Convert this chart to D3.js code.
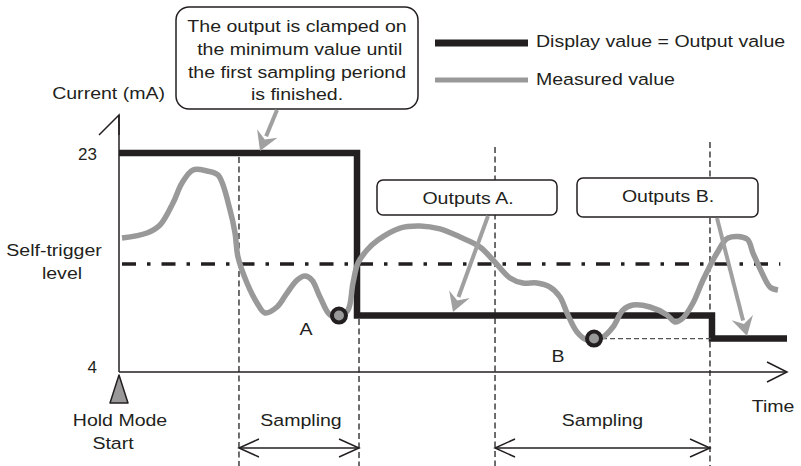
<!DOCTYPE html>
<html><head><meta charset="utf-8">
<script src="https://cdn.jsdelivr.net/npm/d3@7"></script>
<style>
body{margin:0;background:#fff;}
text{font-family:"Liberation Sans",Arial,Helvetica,sans-serif;fill:#231f20;}
</style></head>
<body>
<script>
// ---- data (time in arbitrary units 0..100, current in mA) ----
const yTicks = [4, 23];
const yTickLabels = ["4", "23"];
const measuredT  = [0.45,4.19,6.14,8.08,9.43,11.08,13.17,14.82,16.62,17.37,17.81,19.16,20.66,21.86,23.65,25.15,26.65,27.84,28.89,30.09,31.59,32.93,34.28,35.03,35.78,37.13,38.77,42.07,45.06,48.05,51.05,54.04,55.99,58.53,60.48,62.57,64.52,66.02,67.07,68.56,70.06,71.11,72.46,73.95,75.45,76.95,79.49,82.04,83.23,84.43,85.93,87.43,89.52,91.17,94.01,94.91,96.26,97.46,98.65];
const measuredMA = [15.63,16.06,16.75,18.66,20.40,21.53,21.44,21.09,18.06,16.06,13.98,11.72,9.99,9.12,9.64,10.85,11.98,12.33,11.98,10.51,8.95,8.85,9.38,11.72,13.46,14.58,15.45,16.49,16.67,16.41,15.71,14.85,13.72,12.16,11.72,11.72,11.37,10.51,9.12,7.47,6.78,6.86,7.04,7.90,9.38,9.81,9.64,8.95,8.34,8.69,9.99,11.98,14.32,15.63,15.54,14.32,12.59,11.37,11.11];
const outputT  = [0, 35.63, 35.63, 88.77, 88.77, 100];
const outputMA = [23, 23, 8.9, 8.9, 6.9, 6.9];
const selfTrigger = 13.37;
const samplingStart = [17.96, 56.29];
const samplingEnd   = [35.93, 88.47];
const samplingLabel = ["Sampling", "Sampling"];
const pointNames = ["A", "B"];
const pointT  = [32.93, 71.11];
const pointMA = [8.9, 6.9];
const calloutLines = ["The output is clamped on", " the minimum value until", "the first sampling periond", "is finished."];
const legendLabels = ["Display value = Output value", "Measured value"];
const outputsLabels = ["Outputs A.", "Outputs B."];

// ---- setup ----
const W = 801, H = 466;
const svg = d3.select("body").append("svg").attr("width", W).attr("height", H);
const x = d3.scaleLinear().domain([0, 100]).range([119, 787]);
const y = d3.scaleLinear().domain([4, 23]).range([372, 153]);
const FS = 17, SX = 1.15;
const GRAY = "#999999", DARK = "#231f20";

function txt(s, px, py, anchor, size) {
  return svg.append("text")
    .attr("transform", `translate(${px},${py}) scale(${SX},1)`)
    .attr("text-anchor", anchor || "middle")
    .attr("font-size", size || FS)
    .style("white-space", "pre")
    .text(s);
}
function chevron(tipX, tipY, dx, dy) {
  svg.append("path")
    .attr("d", `M${tipX + dx},${tipY + dy} L${tipX},${tipY} L${tipX + (dx === 0 ? -dy : dx)},${tipY + (dx === 0 ? dy : -dy)}`)
    .attr("fill", "none").attr("stroke", DARK).attr("stroke-width", 1.5);
}

// ---- vertical dashed sampling boundaries ----
const boundTops = [157, 319, 147, 142];
const bounds = [samplingStart[0], samplingEnd[0], samplingStart[1], samplingEnd[1]];
bounds.forEach((t, i) => {
  svg.append("line").attr("x1", x(t)).attr("x2", x(t)).attr("y1", boundTops[i]).attr("y2", H)
    .attr("stroke", DARK).attr("stroke-width", 1.3).attr("stroke-dasharray", "6,3.5");
});

// ---- self-trigger dash-dot line ----
svg.append("line").attr("x1", x(0.45)).attr("x2", x(99)).attr("y1", y(selfTrigger)).attr("y2", y(selfTrigger))
  .attr("stroke", DARK).attr("stroke-width", 3.5).attr("stroke-dasharray", "14,11,3.5,11");

// ---- axes ----
const yAxis = d3.axisLeft(y).tickValues(yTicks).tickFormat((d, i) => yTickLabels[i]).tickSize(0).tickPadding(22);
const gy = svg.append("g").attr("transform", `translate(${x(0)},0)`).call(yAxis);
gy.select(".domain").remove();
gy.selectAll("text").attr("font-size", FS).attr("font-family", "Liberation Sans, Arial, sans-serif")
  .attr("fill", DARK)
  .attr("dy", d => d === 4 ? "0" : "0.36em");
svg.append("line").attr("x1", x(0)).attr("x2", x(0)).attr("y1", 115).attr("y2", y(4))
  .attr("stroke", DARK).attr("stroke-width", 1.5);
chevron(x(0), 115, 0, 20);
svg.append("line").attr("x1", x(0)).attr("x2", x(100)).attr("y1", y(4)).attr("y2", y(4))
  .attr("stroke", DARK).attr("stroke-width", 1.5);
chevron(x(100), y(4), -20, 10);

// ---- output (display) line ----
const outData = outputT.map((t, i) => [t, outputMA[i]]);
svg.append("path").datum(outData)
  .attr("d", d3.line().x(d => x(d[0])).y(d => y(d[1])))
  .attr("fill", "none").attr("stroke", DARK).attr("stroke-width", 6.5)
  .attr("stroke-linejoin", "miter").attr("stroke-linecap", "butt");

// dashed level from B to the step
svg.append("line").attr("x1", x(pointT[1])).attr("x2", x(outputT[3])).attr("y1", y(pointMA[1])).attr("y2", y(pointMA[1]))
  .attr("stroke", "#555").attr("stroke-width", 1.2).attr("stroke-dasharray", "5,3");

// ---- measured line ----
const measData = measuredT.map((t, i) => [t, measuredMA[i]]);
svg.append("path").datum(measData)
  .attr("d", d3.line().x(d => x(d[0])).y(d => y(d[1])).curve(d3.curveCatmullRom.alpha(0.5)))
  .attr("fill", "none").attr("stroke", GRAY).attr("stroke-width", 5.5)
  .attr("stroke-linejoin", "round").attr("stroke-linecap", "butt");

// ---- sample points ----
pointNames.forEach((n, i) => {
  svg.append("circle").attr("cx", x(pointT[i])).attr("cy", y(pointMA[i])).attr("r", 7)
    .attr("fill", GRAY).attr("stroke", DARK).attr("stroke-width", 4);
});
txt("A", 306, 335);
txt("B", 558, 362);

// ---- callout boxes ----
svg.append("rect").attr("x", 176).attr("y", 7).attr("width", 242).attr("height", 102).attr("rx", 13)
  .attr("fill", "#fff").attr("stroke", DARK).attr("stroke-width", 1.5);
const lineBase = [32, 55, 77.5, 100];
calloutLines.forEach((s, i) => txt(s, 297, lineBase[i]));

const boxes = [[377, 180, 180, 35], [577, 178, 181, 39]];
boxes.forEach((b, i) => {
  svg.append("rect").attr("x", b[0]).attr("y", b[1]).attr("width", b[2]).attr("height", b[3]).attr("rx", 6)
    .attr("fill", "#fff").attr("stroke", DARK).attr("stroke-width", 1.5);
});
txt(outputsLabels[0], 468, 204);
txt(outputsLabels[1], 668, 202);

// ---- gray pointer arrows ----
function grayArrow(x1, y1, x2, y2) {
  const ang = Math.atan2(y2 - y1, x2 - x1);
  const L = 19, Wd = 11;
  const bx = x2 - L * Math.cos(ang), by = y2 - L * Math.sin(ang);
  svg.append("line").attr("x1", x1).attr("y1", y1).attr("x2", bx + 3 * Math.cos(ang)).attr("y2", by + 3 * Math.sin(ang))
    .attr("stroke", "#a0a0a0").attr("stroke-width", 4);
  const px = -Math.sin(ang), py = Math.cos(ang);
  svg.append("path")
    .attr("d", `M${x2},${y2} L${bx + Wd * px},${by + Wd * py} L${bx + 0.35 * L * Math.cos(ang)},${by + 0.35 * L * Math.sin(ang)} L${bx - Wd * px},${by - Wd * py} Z`)
    .attr("fill", "#a0a0a0");
}
grayArrow(277, 110, 260, 151);
grayArrow(488, 216, 453, 312);
grayArrow(717, 218, 747, 336);

// ---- legend ----
svg.append("line").attr("x1", 435).attr("x2", 528).attr("y1", 43).attr("y2", 43).attr("stroke", DARK).attr("stroke-width", 7);
svg.append("line").attr("x1", 435).attr("x2", 528).attr("y1", 80).attr("y2", 80).attr("stroke", GRAY).attr("stroke-width", 5);
txt(legendLabels[0], 536, 47, "start");
txt(legendLabels[1], 536, 85, "start");

// ---- axis titles and labels ----
txt("Current (mA)", 165, 99, "end");
txt("Self-trigger", 54, 256);
txt("level", 62, 279);
txt("Time", 773, 412);

// hold mode marker
svg.append("path").attr("d", `M${x(0)},375 L${x(0) + 9},403 L${x(0) - 9},403 Z`)
  .attr("fill", GRAY).attr("stroke", DARK).attr("stroke-width", 1.5).attr("stroke-linejoin", "round");
txt("Hold Mode", 120, 426);
txt("Start", 113, 449);

// sampling arrows
samplingStart.forEach((s, i) => {
  const x1 = x(s), x2 = x(samplingEnd[i]);
  svg.append("line").attr("x1", x1).attr("x2", x2).attr("y1", 448).attr("y2", 448).attr("stroke", DARK).attr("stroke-width", 1.5);
  chevron(x1, 448, 20, 9);
  chevron(x2, 448, -20, 9);
  txt(samplingLabel[i], (x1 + x2) / 2 + (i === 0 ? 2 : 0), 426);
});
</script>
</body></html>
